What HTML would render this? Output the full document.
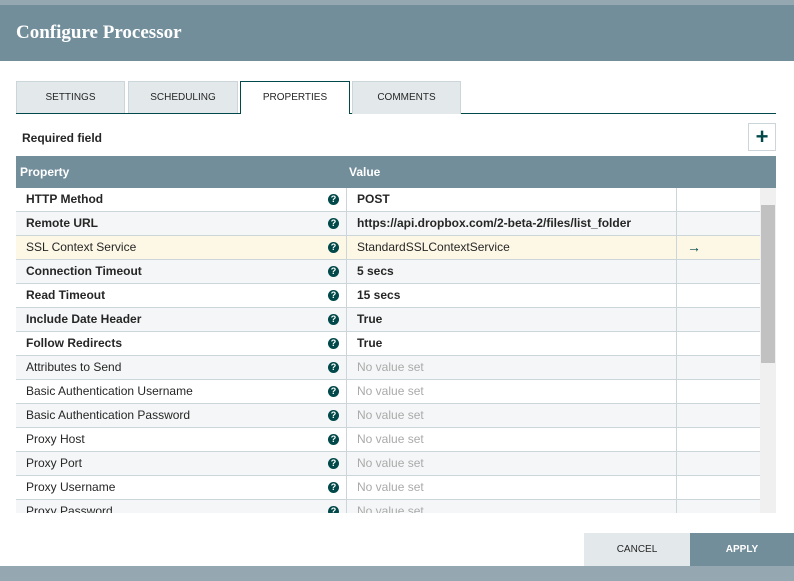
<!DOCTYPE html>
<html><head><style>
*{box-sizing:border-box;margin:0;padding:0}
body{width:794px;height:581px;overflow:hidden;background:#95a8b2;font-family:"Liberation Sans",sans-serif;position:relative}
.dlg{position:absolute;left:0;top:5px;width:794px;height:561px;background:#fff}
.hdr{position:absolute;left:0;top:0;width:794px;height:56px;background:#728e9b;color:#fff;font-family:"Liberation Serif",serif;font-weight:bold;font-size:19px;padding:17px 0 0 16px}
.tab{position:absolute;top:76px;height:33px;background:#e3e8eb;border:1px solid #ccd5da;border-bottom:none;font-size:10px;color:#262626;text-align:center;line-height:32px}
.tab.act{background:#fff;border:1px solid #004849;border-bottom:none;height:33px}
.tline{position:absolute;left:16px;top:108px;width:760px;height:1px;background:#004849}
.req{position:absolute;left:22px;top:126px;font-size:12px;font-weight:bold;color:#262626}
.plus{position:absolute;left:748px;top:118px;width:28px;height:28px;border:1px solid #ccd5da;text-align:center;font-size:22px;line-height:26px;font-weight:bold;color:#004849}
.th{position:absolute;left:16px;top:151px;width:760px;height:32px;background:#728e9b;color:#fff;font-weight:bold;font-size:12px}
.th span{position:absolute;top:9px}
.rows{position:absolute;left:16px;top:183px;width:744px;height:325px;overflow:hidden}
.r{position:relative;height:24px;border-bottom:1px solid #ccd5da;font-size:12px;color:#262626}
.r:nth-child(even){background:#f4f6f7}
.r.y{background:#fdf8e6}
.r div{position:absolute;top:0;height:24px;line-height:23px}
.p{left:10px}
.q{left:312px;top:6px!important;width:11px;height:11px!important;border-radius:50%;background:#004849;color:#fff;font-size:9px;line-height:11px!important;text-align:center;font-weight:bold}
.v{left:330px;border-left:1px solid #ccd5da;padding-left:10px;width:330px}
.e{left:660px;border-left:1px solid #ccd5da;width:84px;padding-left:10px;font-size:14px;font-weight:bold;color:#004849}
.b{font-weight:bold}
.n{color:#aaa}
.sb{position:absolute;left:760px;top:183px;width:16px;height:325px;background:#f0f0f0}
.th2{position:absolute;left:761px;top:200px;width:14px;height:158px;background:#c1c1c1}
.btn{position:absolute;top:528px;height:33px;font-size:10px;text-align:center;line-height:33px}
</style></head><body>
<div class="dlg">
<div class="hdr">Configure Processor</div>
<div class="tab" style="left:16px;width:109px">SETTINGS</div>
<div class="tab" style="left:128px;width:110px">SCHEDULING</div>
<div class="tline"></div>
<div class="tab act" style="left:240px;width:110px;z-index:2">PROPERTIES</div>
<div class="tab" style="left:352px;width:109px">COMMENTS</div>
<div class="req">Required field</div>
<div class="plus">+</div>
<div class="th"><span style="left:4px">Property</span><span style="left:333px">Value</span></div>
<div class="rows">
<div class="r"><div class="p b">HTTP Method</div><div class="q">?</div><div class="v b">POST</div><div class="e"></div></div>
<div class="r"><div class="p b">Remote URL</div><div class="q">?</div><div class="v b">https://api.dropbox.com/2-beta-2/files/list_folder</div><div class="e"></div></div>
<div class="r y"><div class="p">SSL Context Service</div><div class="q">?</div><div class="v">StandardSSLContextService</div><div class="e">&#x2192;</div></div>
<div class="r"><div class="p b">Connection Timeout</div><div class="q">?</div><div class="v b">5 secs</div><div class="e"></div></div>
<div class="r"><div class="p b">Read Timeout</div><div class="q">?</div><div class="v b">15 secs</div><div class="e"></div></div>
<div class="r"><div class="p b">Include Date Header</div><div class="q">?</div><div class="v b">True</div><div class="e"></div></div>
<div class="r"><div class="p b">Follow Redirects</div><div class="q">?</div><div class="v b">True</div><div class="e"></div></div>
<div class="r"><div class="p">Attributes to Send</div><div class="q">?</div><div class="v n">No value set</div><div class="e"></div></div>
<div class="r"><div class="p">Basic Authentication Username</div><div class="q">?</div><div class="v n">No value set</div><div class="e"></div></div>
<div class="r"><div class="p">Basic Authentication Password</div><div class="q">?</div><div class="v n">No value set</div><div class="e"></div></div>
<div class="r"><div class="p">Proxy Host</div><div class="q">?</div><div class="v n">No value set</div><div class="e"></div></div>
<div class="r"><div class="p">Proxy Port</div><div class="q">?</div><div class="v n">No value set</div><div class="e"></div></div>
<div class="r"><div class="p">Proxy Username</div><div class="q">?</div><div class="v n">No value set</div><div class="e"></div></div>
<div class="r"><div class="p">Proxy Password</div><div class="q">?</div><div class="v n">No value set</div><div class="e"></div></div>
</div>
<div class="sb"></div><div class="th2"></div>
<div class="btn" style="left:584px;width:106px;background:#e3e8eb;color:#262626">CANCEL</div>
<div class="btn" style="left:690px;width:104px;background:#728e9b;color:#fff;font-weight:bold">APPLY</div>
</div>
</body></html>
